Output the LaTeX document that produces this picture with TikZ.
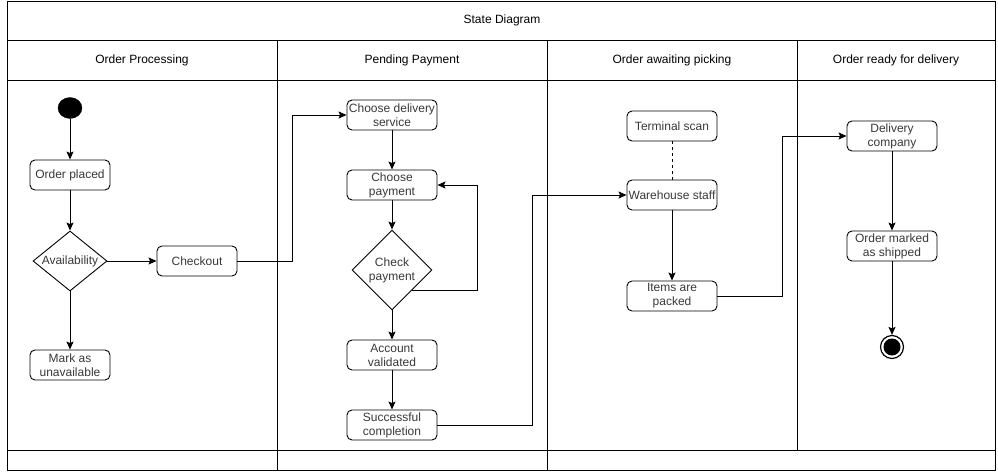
\documentclass[tikz,border=0pt]{standalone}
\usepackage{fontspec}
\setmainfont{Liberation Sans}
\usetikzlibrary{shapes.geometric, arrows.meta, calc}

\begin{document}
\begin{tikzpicture}[x=1pt, y=-1pt,
  every node/.style={font=\fontsize{12}{14}\selectfont, text=black!78},
  heading/.style={text=black},
  frame/.style={draw=black, line width=1pt},
  state/.style={draw=black, line width=0.9pt, rounded corners=5pt, minimum height=30pt,
                align=center, inner sep=1pt},
  narrow/.style={state, minimum width=80pt},
  wide/.style={state, minimum width=90pt},
  decision/.style={draw=black, line width=0.9pt, diamond, inner sep=0pt},
  arr/.style={draw=black, line width=0.9pt, -{Stealth[length=8pt, width=7pt, inset=1.5pt]}},
  link/.style={draw=black, line width=0.9pt}
]
\useasboundingbox (0,0) rectangle (998,471);

% swimlane frame
\draw[frame] (7,1) rectangle (995,470);
\draw[frame] (7,40) -- (995,40);
\draw[frame] (7,80) -- (995,80);
\draw[frame] (7,450) -- (995,450);
\draw[frame] (277,40) -- (277,470);
\draw[frame] (547,40) -- (547,470);
\draw[frame] (797,40) -- (797,450);

% headers
\node[heading] (title) at (502,20) {State Diagram};
\node[heading] (h1) at (142,60) {Order Processing};
\node[heading] (h2) at (412,60) {Pending Payment};
\node[heading] (h3) at (672,60) {Order awaiting picking};
\node[heading] (h4) at (896,60) {Order ready for delivery};

% lane 1
\node[ellipse, fill=black, draw=black, minimum width=24pt, minimum height=21pt, inner sep=0pt] (start) at (70,108) {};
\node[narrow] (placed) at (70,175) {Order placed};
\node[decision, minimum width=74pt, minimum height=60pt, label={center:Availability}] (av) at (70,261) {};
\node[narrow] (co) at (197,261) {Checkout};
\node[narrow] (mark) at (70,365) {Mark as\\unavailable};

% lane 2
\node[wide] (cds) at (392,115) {Choose delivery\\service};
\node[wide] (cpay) at (392,185) {Choose\\payment};
\node[decision, minimum width=80pt, minimum height=80pt, label={[align=center]center:Check\\payment}] (chk) at (392,270) {};
\node[wide] (acc) at (392,355) {Account\\validated};
\node[wide] (succ) at (392,425) {Successful\\completion};

% lane 3
\node[wide] (ts) at (672,126) {Terminal scan};
\node[wide] (ws) at (672,195) {Warehouse staff};
\node[wide] (ip) at (672,296) {Items are\\packed};

% lane 4
\node[wide] (dc) at (892,136) {Delivery\\company};
\node[wide] (oms) at (892,246) {Order marked\\as shipped};
\node[circle, draw=black, line width=1.2pt, minimum size=23pt, inner sep=0pt] (end) at (892,347) {};
\fill[black] (end.center) circle (8.5pt);

% bend points of routed connectors
\coordinate (b1) at (292,0);
\coordinate (b2) at (477,0);
\coordinate (b3) at (532,0);
\coordinate (b4) at (782,0);

% connectors
\draw[arr] (start) -- (placed);
\draw[arr] (placed) -- (av);
\draw[arr] (av.south) -- (mark.north);
\draw[arr] (av.east) -- (co.west);
\draw[arr] (co.east) -- (co.east -| b1) |- (cds.west);
\draw[arr] (cds) -- (cpay);
\draw[arr] (cpay) -- (chk.north);
\draw[arr] (chk.south east) -- (chk.south east -| b2) |- (cpay.east);
\draw[arr] (chk.south) -- (acc);
\draw[arr] (acc) -- (succ);
\draw[arr] (succ.east) -- (succ.east -| b3) |- (ws.west);
\draw[link, dashed] (ts) -- (ws);
\draw[arr] (ws) -- (ip);
\draw[arr] (ip.east) -- (ip.east -| b4) |- (dc.west);
\draw[arr] (dc) -- (oms);
\draw[arr] (oms) -- (end);
\end{tikzpicture}
\end{document}
